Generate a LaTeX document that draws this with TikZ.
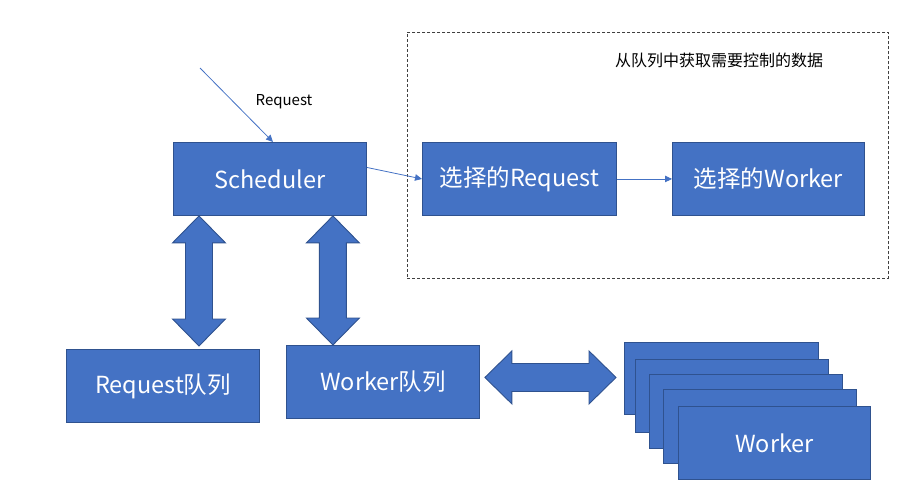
\documentclass[tikz,border=0pt]{standalone}
\usepackage{fontspec}
\setmainfont{Noto Sans CJK SC}
\usetikzlibrary{calc,arrows.meta}
\definecolor{boxfill}{HTML}{4472C4}
\definecolor{boxline}{HTML}{2F528F}
\definecolor{dashc}{HTML}{404040}
\newcommand\vdblarrow[2]{\draw[blockarrow] (#1) -- ($(#1)+(26.5,27)$) -- ($(#1)+(13.5,27)$) -- ($(#2)+(13.5,-27)$) -- ($(#2)+(26.5,-27)$) -- (#2) -- ($(#2)+(-26.5,-27)$) -- ($(#2)+(-13.5,-27)$) -- ($(#1)+(-13.5,27)$) -- ($(#1)+(-26.5,27)$) -- cycle;}
\newcommand\hdblarrow[2]{\draw[blockarrow] (#1) -- ($(#1)+(27,-26.5)$) -- ($(#1)+(27,-14)$) -- ($(#2)+(-27,-14)$) -- ($(#2)+(-27,-26.5)$) -- (#2) -- ($(#2)+(-27,26.5)$) -- ($(#2)+(-27,14)$) -- ($(#1)+(27,14)$) -- ($(#1)+(27,26.5)$) -- cycle;}
\begin{document}
\begin{tikzpicture}[x=1pt,y=-1pt,
  bbox/.style={draw=boxline, fill=boxfill, line width=0.9pt, text=white,
    font=\fontsize{23.5}{26}\selectfont, inner sep=0pt, anchor=north west,
    minimum width=193pt, minimum height=73pt},
  blockarrow/.style={draw=boxline, fill=boxfill, line width=0.9pt, line join=miter},
  thinarrow/.style={draw=boxfill, line width=0.8pt, -{Triangle[length=7pt,width=6.5pt]}},
  region/.style={draw=dashc, dash pattern=on 3pt off 2pt, line width=0.7pt, inner sep=0pt, anchor=north west},
  lbl/.style={text=black, inner sep=0pt}]
\useasboundingbox (0,0) rectangle (920,498);

% dashed region
\node[region, minimum width=481pt, minimum height=246pt] (sel) at (407,32) {};
\node[lbl, font=\fontsize{16}{18}\selectfont] (seltxt) at (719,60) {从队列中获取需要控制的数据};

% main boxes
\node[bbox] (sched) at (173,142) {Scheduler};
\node[bbox, minimum width=194pt] (selreq) at (422,142) {选择的Request};
\node[bbox, minimum width=192pt] (selwk) at (672,142) {选择的Worker};
\node[bbox] (reqq) at (66,349) {Request队列};
\node[bbox] (wkq) at (286,345) {Worker队列};

% worker stack
\node[bbox, minimum width=194pt, minimum height=72pt] (w1) at (624,342) {};
\node[bbox] (w2) at (635,359) {};
\node[bbox, minimum height=74pt] (w3) at (649,374) {};
\node[bbox, minimum height=74pt] (w4) at (663,389) {};
\node[bbox, minimum width=192pt] (w5) at (678,406) {Worker};

% incoming request
\coordinate (src) at (200,68);
\node[lbl, font=\fontsize{15}{17}\selectfont] (reqlbl) at (284,102) {Request};
\draw[thinarrow] (src) -- ($(sched.north west)+(100,0)$);
\draw[thinarrow] ($(sched.east)+(0,-11.5)$) -- (selreq.west);
\draw[thinarrow] (selreq.east) -- (selwk.west);

% block arrows
\coordinate (a1t) at ($(sched.south west)+(26,0)$);
\coordinate (a1b) at (a1t |- {(0,346)});
\vdblarrow{a1t}{a1b}
\coordinate (a2t) at ($(sched.south east)+(-34,0)$);
\coordinate (a2b) at (a2t |- wkq.north);
\vdblarrow{a2t}{a2b}
\coordinate (a3l) at ($(wkq.east)+(5,-4.5)$);
\coordinate (a3x) at ($(w1.west)+(-8,0)$);
\coordinate (a3r) at (a3x |- a3l);
\hdblarrow{a3l}{a3r}
\end{tikzpicture}
\end{document}
